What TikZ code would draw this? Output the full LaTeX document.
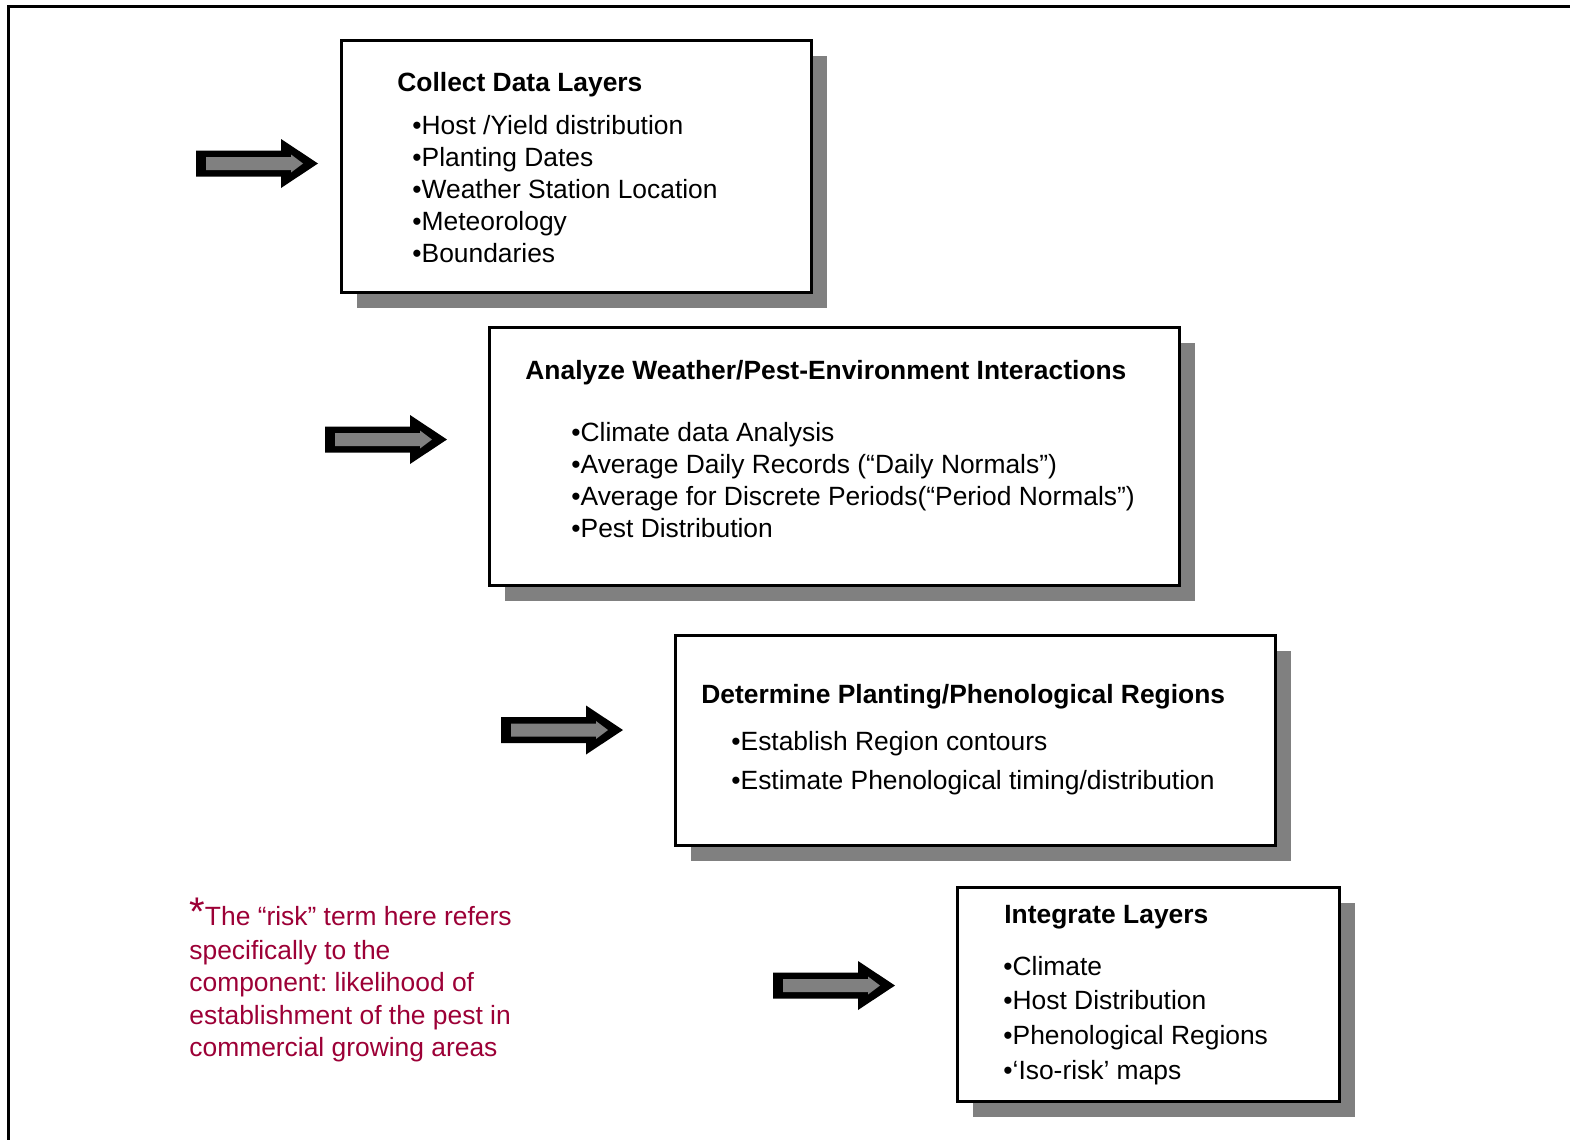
\documentclass[tikz,border=0pt]{standalone}
\usepackage{fontspec}
\setmainfont{Liberation Sans}
\usetikzlibrary{shadows}
\definecolor{framegray}{HTML}{808080}
\definecolor{notered}{HTML}{9C0036}
\frenchspacing

\tikzset{
  stagebox/.style={draw, line width=1.25pt, fill=white, rectangle, anchor=north west,
    inner sep=0pt,
    drop shadow={shadow xshift=8pt, shadow yshift=-8pt, fill=framegray, opacity=1}},
  boxtitle/.style={anchor=base west, inner sep=0pt,
    font=\fontsize{13.2}{16}\selectfont\bfseries},
  boxitem/.style={anchor=base west, inner sep=0pt},
  noteline/.style={anchor=base west, inner sep=0pt, text=notered},
  pics/fatarrow/.style={code={
    \fill[black] (0,-13) -- (85,-13) -- (85,-24.5) -- (122,0) -- (85,24.5)
      -- (85,13) -- (0,13) -- cycle;
    \fill[framegray] (10,-6.5) -- (95,-6.5) -- (95,-9) -- (107,0) -- (95,9)
      -- (95,6.5) -- (10,6.5) -- cycle;
  }}
}

\begin{document}
\begin{tikzpicture}[x=0.5pt, y=-0.5pt, font=\fontsize{13.2}{16}\selectfont]
  \useasboundingbox (0,0) rectangle (1570,1140);
  % page frame, cut at the right and bottom edges
  \draw[line width=1.25pt] (8.5,1140) |- (1570,6.5);

  % stage 1
  \node[stagebox, minimum width=235pt, minimum height=126pt] (collect) at (340,39) {};
  \node[boxtitle] (collect-title) at (397,91) {Collect Data Layers};
  \foreach \txt [count=\i] in {Host /Yield distribution, Planting Dates,
      Weather Station Location, Meteorology, Boundaries}
    \node[boxitem] (collect-\i) at (412,{134+32*(\i-1)}) {\textbullet\txt};

  % stage 2
  \node[stagebox, minimum width=345pt, minimum height=129pt] (analyze) at (488,326) {};
  \node[boxtitle] (analyze-title) at (525,379.5) {Analyze Weather/Pest-Environment Interactions};
  \foreach \txt [count=\i] in {Climate data Analysis,
      Average Daily Records (“Daily Normals”),
      Average for Discrete Periods(“Period Normals”), Pest Distribution}
    \node[boxitem] (analyze-\i) at (571,{441+32*(\i-1)}) {\textbullet\txt};

  % stage 3
  \node[stagebox, minimum width=300pt, minimum height=105pt] (regions) at (674,634) {};
  \node[boxtitle] (regions-title) at (701,703.5) {Determine Planting/Phenological Regions};
  \node[boxitem] (regions-1) at (731,750.5) {\textbullet Establish Region contours};
  \node[boxitem] (regions-2) at (731,789.5) {\textbullet Estimate Phenological timing/distribution};

  % stage 4
  \node[stagebox, minimum width=191pt, minimum height=107pt] (integrate) at (956,886) {};
  \node[boxtitle] (integrate-title) at (1004,923) {Integrate Layers};
  \foreach \txt [count=\i] in {Climate, Host Distribution, Phenological Regions,
      ‘Iso-risk’ maps}
    \node[boxitem] (integrate-\i) at (1003,{975+34.7*(\i-1)}) {\textbullet\txt};

  % block arrows
  \pic (arrow-collect) at (196,163.5) {fatarrow};
  \pic (arrow-analyze) at (325,439.5) {fatarrow};
  \pic (arrow-regions) at (501,730) {fatarrow};
  \pic (arrow-integrate) at (773,985.5) {fatarrow};

  % footnote
  \node[noteline] (note-1) at (189,925)
    {{\fontsize{20}{20}\selectfont *}The “risk” term here refers};
  \foreach \txt [count=\i from 2] in {specifically to the,
      component: likelihood of, establishment of the pest in,
      commercial growing areas}
    \node[noteline] (note-\i) at (189,{959+32.5*(\i-2)}) {\txt};
\end{tikzpicture}
\end{document}
